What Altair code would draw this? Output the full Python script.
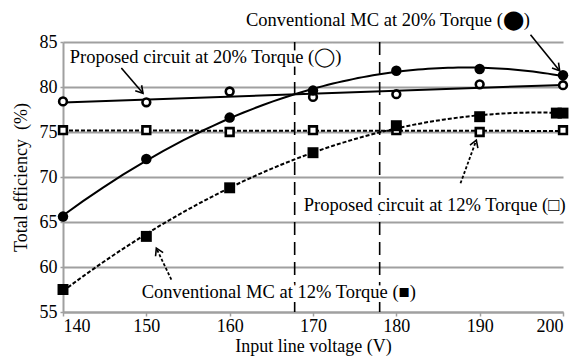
import math
import altair as alt
import pandas as pd

# ---------------- data ----------------
voltage = [140, 150, 160, 170, 180, 190, 200]
prop20 = [78.4, 78.3, 79.5, 78.9, 79.2, 80.3, 80.2]   # Proposed circuit at 20% torque (open circles)
conv20 = [65.6, 72.0, 76.6, 79.6, 81.8, 82.0, 81.3]   # Conventional MC at 20% torque (filled circles)
prop12 = [75.2, 75.2, 75.0, 75.2, 75.2, 75.0, 75.2]   # Proposed circuit at 12% torque (open squares)
conv12 = [57.5, 63.4, 68.8, 72.7, 75.7, 76.7, 77.1]   # Conventional MC at 12% torque (filled squares)
conv12_extra_v = [199.2]
conv12_extra = [77.1]

vlines = [167.8, 178.0]

x_ticks = [140, 150, 160, 170, 180, 190, 200]
y_ticks = [55, 60, 65, 70, 75, 80, 85]

labels = [
    "Conventional MC at 20% Torque (\u2B24)",
    "Proposed circuit at 20% Torque (\u25EF)",
    "Proposed circuit at 12% Torque (\u25A1)",
    "Conventional MC at 12% Torque (\u25A0)",
]
label_x = [179.0, 157.1, 184.6, 165.9]
label_y = [87.45, 83.35, 66.9, 57.2]

arrow_x = [196.1, 147.0, 187.7, 153.0]
arrow_y = [85.8, 82.1, 69.3, 58.6]
arrow_x2 = [199.6, 149.6, 189.6, 151.2]
arrow_y2 = [81.8, 79.3, 74.1, 62.1]
arrow_dotted = [False, False, True, True]

# ---------------- layout ----------------
W, H = 500, 270
XD = [140, 200]
YD = [55, 85]
FONT = "Liberation Serif"

df = pd.DataFrame({"v": voltage, "prop20": prop20, "conv20": conv20,
                   "prop12": prop12, "conv12": conv12})
df_extra = pd.DataFrame({"v": conv12_extra_v, "conv12": conv12_extra})

# arrow direction angle (screen space), from data vectors
angles = []
for x1, y1, x2, y2 in zip(arrow_x, arrow_y, arrow_x2, arrow_y2):
    dxs = (x2 - x1) * W / (XD[1] - XD[0])
    dys = -(y2 - y1) * H / (YD[1] - YD[0])
    angles.append(math.degrees(math.atan2(dys, dxs)) % 360)

arrows = pd.DataFrame({"x": arrow_x, "y": arrow_y, "x2": arrow_x2, "y2": arrow_y2,
                       "dotted": arrow_dotted, "ang": angles})
texts = pd.DataFrame({"label": labels, "x": label_x, "y": label_y})

xs = alt.Scale(domain=XD, nice=False, zero=False)
ys = alt.Scale(domain=YD, nice=False, zero=False)

x_axis = alt.Axis(values=x_ticks, title="Input line voltage (V)", grid=False,
                  labelFontSize=18, titleFontSize=18, labelFont=FONT, titleFont=FONT,
                  labelColor="black", titleColor="black", titleFontWeight="normal",
                  domainColor="#a0a0a0", domainWidth=2, tickColor="#a0a0a0",
                  tickSize=4, tickWidth=1.5, labelPadding=1, titlePadding=2)
y_axis = alt.Axis(values=y_ticks, title="Total efficiency\u00a0 (%)", grid=True,
                  gridColor="#a0a0a0", gridWidth=2,
                  labelFontSize=18, titleFontSize=18, labelFont=FONT, titleFont=FONT,
                  labelColor="black", titleColor="black", titleFontWeight="normal",
                  domainColor="#a0a0a0", domainWidth=2, tickColor="#a0a0a0",
                  tickSize=3, tickWidth=1.5, labelPadding=3, titlePadding=9)

base = alt.Chart(df)

grid_layer = base.mark_point(opacity=0).encode(
    x=alt.X("v:Q", scale=xs, axis=x_axis),
    y=alt.Y("prop20:Q", scale=ys, axis=y_axis),
)

def fit_line(field, method, dash, order=2):
    kw = dict(method=method)
    if method == "poly":
        kw["order"] = order
    mk = dict(color="black", strokeWidth=2)
    if dash:
        mk["strokeDash"] = dash
    return base.transform_regression("v", field, **kw).mark_line(**mk).encode(
        x=alt.X("v:Q", scale=xs), y=alt.Y(f"{field}:Q", scale=ys))

line_p20 = fit_line("prop20", "linear", None)
line_c20 = fit_line("conv20", "poly", None)
line_p12 = fit_line("prop12", "linear", [4, 2])
line_c12 = fit_line("conv12", "poly", [4, 2])

vl = alt.Chart(pd.DataFrame({"x": vlines})).mark_rule(
    color="black", strokeWidth=1.6, strokeDash=[13, 7]).encode(
    x=alt.X("x:Q", scale=xs))

pts_p20 = base.mark_point(shape="circle", filled=True, fill="white", stroke="black",
                          strokeWidth=2.6, size=60, opacity=1).encode(
    x=alt.X("v:Q", scale=xs), y=alt.Y("prop20:Q", scale=ys))
pts_c20 = base.mark_point(shape="circle", filled=True, color="black", size=110,
                          opacity=1).encode(
    x=alt.X("v:Q", scale=xs), y=alt.Y("conv20:Q", scale=ys))
pts_p12 = base.mark_point(shape="square", filled=True, fill="white", stroke="black",
                          strokeWidth=2.6, size=60, opacity=1).encode(
    x=alt.X("v:Q", scale=xs), y=alt.Y("prop12:Q", scale=ys))
pts_c12 = base.mark_point(shape="square", filled=True, color="black", size=120,
                          opacity=1).encode(
    x=alt.X("v:Q", scale=xs), y=alt.Y("conv12:Q", scale=ys))
pts_c12x = alt.Chart(df_extra).mark_point(shape="square", filled=True, color="black",
                                          size=120, opacity=1).encode(
    x=alt.X("v:Q", scale=xs), y=alt.Y("conv12:Q", scale=ys))

arr = alt.Chart(arrows)
shafts_solid = arr.transform_filter("!datum.dotted").mark_rule(
    color="black", strokeWidth=1.6).encode(
    x=alt.X("x:Q", scale=xs), y=alt.Y("y:Q", scale=ys), x2="x2:Q", y2="y2:Q")
shafts_dot = arr.transform_filter("datum.dotted").mark_rule(
    color="black", strokeWidth=1.8, strokeDash=[3, 2]).encode(
    x=alt.X("x:Q", scale=xs), y=alt.Y("y:Q", scale=ys), x2="x2:Q", y2="y2:Q")
heads = arr.mark_point(shape="M-1,-0.6L0,0L-1,0.6", filled=False, stroke="black",
                       strokeWidth=1.6, size=196, opacity=1).encode(
    x=alt.X("x2:Q", scale=xs), y=alt.Y("y2:Q", scale=ys),
    angle=alt.Angle("ang:Q", scale=None))

txt_halo = alt.Chart(texts).mark_text(font=FONT, fontSize=18.5, color="white",
                                      stroke="white", strokeWidth=7,
                                      align="center", baseline="middle").encode(
    x=alt.X("x:Q", scale=xs), y=alt.Y("y:Q", scale=ys), text="label:N")
txt = alt.Chart(texts).mark_text(font=FONT, fontSize=18.5, color="black",
                                 align="center", baseline="middle").encode(
    x=alt.X("x:Q", scale=xs), y=alt.Y("y:Q", scale=ys), text="label:N")

chart = alt.layer(
    grid_layer, vl, line_p12, line_c12, line_p20, line_c20,
    pts_p12, pts_c12, pts_c12x, pts_p20, pts_c20,
    shafts_solid, shafts_dot, heads, txt_halo, txt,
).properties(
    width=W, height=H,
    autosize=alt.AutoSizeParams(type="none"),
    padding={"left": 63, "top": 42, "right": 24, "bottom": 50},
    background="white",
).configure_view(strokeWidth=0)

chart.save("out.html", embed_options={"renderer": "svg", "actions": False})
